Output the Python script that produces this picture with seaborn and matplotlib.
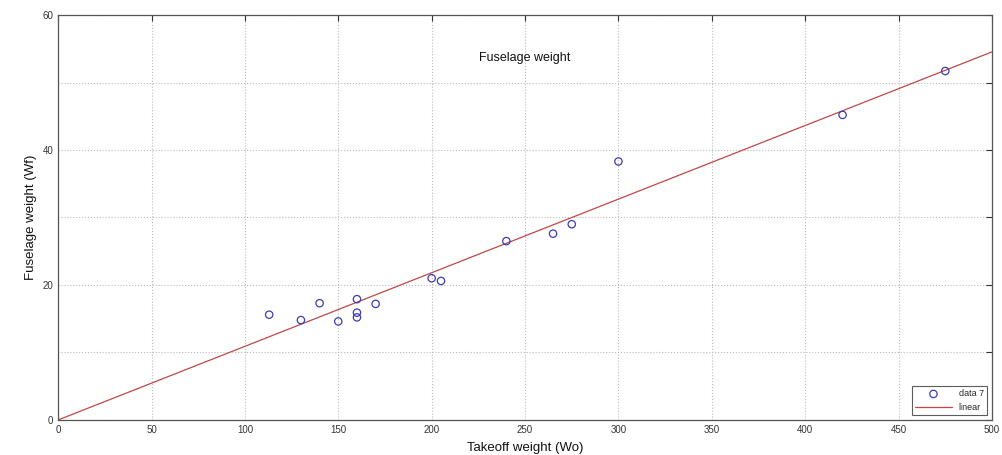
import numpy as np
import pandas as pd
import matplotlib
matplotlib.use("Agg")
import matplotlib.pyplot as plt
import seaborn as sns

# data
takeoff_weight = [113, 130, 140, 150, 160, 160, 160, 170, 200, 205, 240, 265, 275, 300, 420, 475]
fuselage_weight = [15.6, 14.8, 17.3, 14.6, 17.9, 15.9, 15.2, 17.2, 21.0, 20.6, 26.5, 27.6, 29.0, 38.3, 45.2, 51.7]
x_ticks = [0, 50, 100, 150, 200, 250, 300, 350, 400, 450, 500]
y_ticks = [0, 10, 20, 30, 40, 50, 60]
y_tick_labels = ["0", "", "20", "", "40", "", "60"]

sns.set_style("white")
plt.rcParams["font.family"] = ["Liberation Sans", "DejaVu Sans"]

df = pd.DataFrame({"Wo": takeoff_weight, "Wf": fuselage_weight})

# linear fit through origin
x = np.array(takeoff_weight, dtype=float)
y = np.array(fuselage_weight, dtype=float)
slope = (x * y).sum() / (x * x).sum()
fit = pd.DataFrame({"Wo": [0, 500]})
fit["Wf"] = slope * fit["Wo"]

fig = plt.figure(figsize=(10.02, 4.55), dpi=100)
ax = fig.add_axes([0.058, 0.077, 0.932, 0.89])

sns.scatterplot(data=df, x="Wo", y="Wf", ax=ax, marker="o", s=28,
                facecolors="none", edgecolor="#3c3cb4", linewidth=0.9,
                label="data 7", zorder=3)
sns.lineplot(data=fit, x="Wo", y="Wf", ax=ax, color="#c04848",
             linewidth=0.9, label="linear", zorder=2)

ax.set_xlim(0, 500)
ax.set_ylim(0, 60)
ax.set_xticks(x_ticks)
ax.set_yticks(y_ticks)
ax.set_yticklabels(y_tick_labels)
ax.tick_params(direction="in", length=4, labelsize=7, colors="#333333",
               top=True, right=True, width=0.8)
ax.grid(True, color="#bbbbbb", linestyle=":", linewidth=0.8)
for s in ax.spines.values():
    s.set_color("#555555")
    s.set_linewidth(0.9)

ax.set_xlabel("Takeoff weight (Wo)", fontsize=9.5, labelpad=5, color="#111111")
ax.set_ylabel("Fuselage weight (Wf)", fontsize=9.5, labelpad=4, color="#111111")
ax.text(0.5, 0.895, "Fuselage weight", transform=ax.transAxes,
        ha="center", va="center", fontsize=9, color="#111111")

leg = ax.legend(loc="lower right", fontsize=6.5, frameon=True, fancybox=False,
                edgecolor="#333333", borderpad=0.4, handlelength=4,
                markerfirst=True)
leg.get_frame().set_linewidth(0.8)

fig.savefig("out.png", dpi=100)
